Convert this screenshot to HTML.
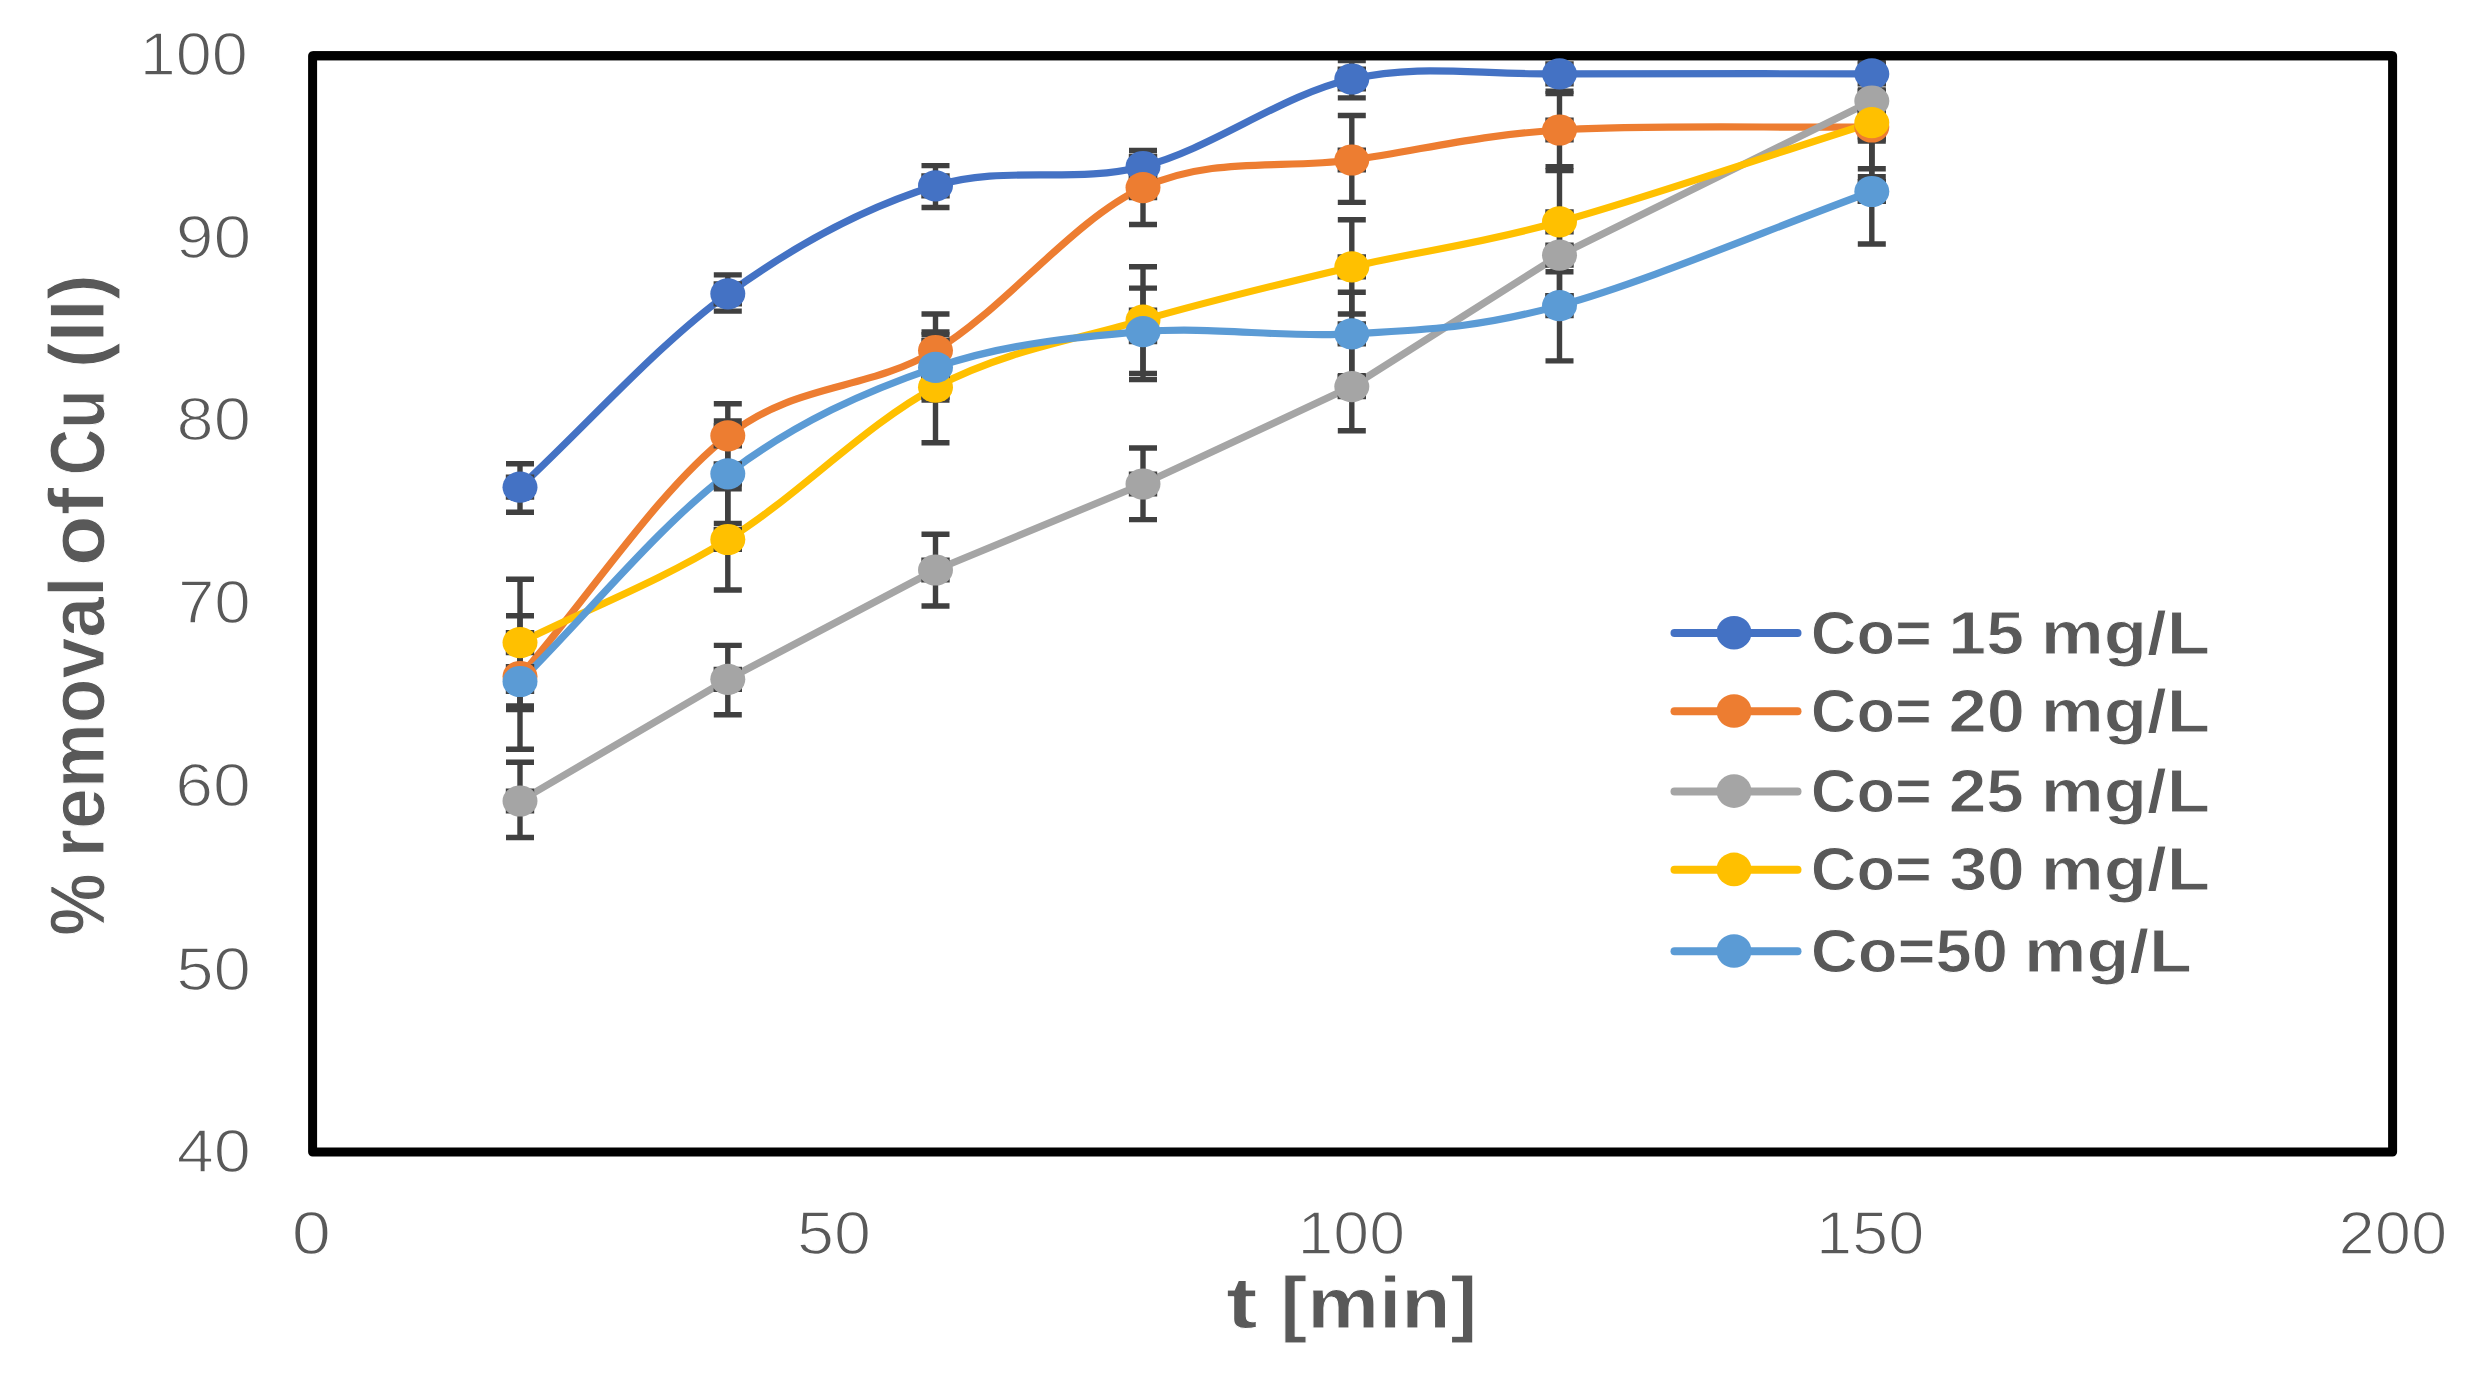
<!DOCTYPE html>
<html lang="en"><head><meta charset="utf-8"><title>% removal of Cu (II) vs t [min]</title>
<style>html,body{margin:0;padding:0;background:#fff;overflow:hidden;}svg{display:block;}text{font-family:"Liberation Sans",sans-serif;fill:#595959;}text{font-kerning:none;stroke:#fff;stroke-linejoin:round;}.r{stroke-width:1.4px;}.b{font-weight:bold;stroke-width:1px;}</style></head><body>
<svg width="2469" height="1379" viewBox="0 0 2469 1379">
<defs><filter id="soft" filterUnits="userSpaceOnUse" x="0" y="0" width="2469" height="1379" color-interpolation-filters="sRGB"><feGaussianBlur stdDeviation="0.75"/></filter></defs>
<rect x="0" y="0" width="2469" height="1379" fill="#fff"/>
<g filter="url(#soft)">
<rect x="0" y="0" width="2469" height="1379" fill="#fff"/>
<rect x="312.6" y="55.7" width="2080" height="1096.3" fill="none" stroke="#000" stroke-width="9" stroke-linejoin="round"/>
<g fill="none" stroke-width="7.2" stroke-linecap="round" stroke-linejoin="round">
<path d="M520 487.2 C589.3 422.7 658.5 344 727.8 293.8 C797 243.6 866.3 207 935.5 185.8 C1004.7 164.6 1073.6 184.3 1143 166.5 C1212.4 148.7 1282.4 94.4 1351.8 79 C1421.2 63.6 1472.8 74.8 1559.5 73.9 C1646.2 73.1 1767.7 73.9 1871.8 73.9" stroke="#4472C4"/>
<path d="M520 676.5 C589.3 596.3 658.5 490.1 727.8 435.8 C797 381.5 866.3 391.9 935.5 350.5 C1004.7 309.1 1073.6 219.3 1143 187.6 C1212.4 155.8 1282.4 169.6 1351.8 160 C1421.2 150.4 1472.8 135.5 1559.5 130 C1646.2 124.5 1767.7 128 1871.8 127" stroke="#ED7D31"/>
<path d="M520 801 L727.8 679.3 L935.5 570 L1143 484 L1351.8 386.6 L1559.5 255.2 L1871.8 101" stroke="#A5A5A5"/>
<path d="M520 642.6 C589.3 608.2 658.5 582.1 727.8 539.5 C797 496.9 866.3 423.8 935.5 387.2 C1004.7 350.6 1073.6 340.2 1143 320.1 C1212.4 300.1 1282.4 283.3 1351.8 266.9 C1421.2 250.5 1472.8 245.8 1559.5 221.8 C1646.2 197.8 1767.7 155.7 1871.8 122.7" stroke="#FFC000"/>
<path d="M520 681.5 C589.3 612.3 658.5 526.1 727.8 473.8 C797 421.4 866.3 391.1 935.5 367.4 C1004.7 343.7 1073.6 337.3 1143 331.7 C1212.4 326.1 1282.4 338.2 1351.8 333.9 C1421.2 329.5 1472.8 329.3 1559.5 305.6 C1646.2 281.9 1767.7 229.5 1871.8 191.5" stroke="#5B9BD5"/>
</g>
<g fill="none" stroke="#404040" stroke-width="5.4">
<path d="M520 463.8V512.2M506 463.8H534M506 512.2H534M727.8 274.9V311.1M713.8 274.9H741.8M713.8 311.1H741.8M935.5 165.6V207.5M921.5 165.6H949.5M921.5 207.5H949.5M1143 150.5V182M1129 150.5H1157M1129 182H1157M1351.8 60.5V97.9M1337.8 60.5H1365.8M1337.8 97.9H1365.8M1559.5 57V91.2M1545.5 57H1573.5M1545.5 91.2H1573.5M1871.8 57V90M1857.8 57H1885.8M1857.8 90H1885.8M508.5 487.2H531.5M508.5 474.6V499.8M531.5 474.6V499.8M716.3 293.8H739.3M716.3 281.2V306.4M739.3 281.2V306.4M924 185.8H947M924 173.2V198.4M947 173.2V198.4M1131.5 166.5H1154.5M1131.5 153.9V179.1M1154.5 153.9V179.1M1340.3 79H1363.3M1340.3 66.4V91.6M1363.3 66.4V91.6M1548 73.9H1571M1548 61.3V86.5M1571 61.3V86.5M1860.3 73.9H1883.3M1860.3 61.3V86.5M1883.3 61.3V86.5"/>
<path d="M520 642V709.5M506 642H534M506 709.5H534M727.8 403.8V467.8M713.8 403.8H741.8M713.8 467.8H741.8M935.5 314V388M921.5 314H949.5M921.5 388H949.5M1143 150.6V224.5M1129 150.6H1157M1129 224.5H1157M1351.8 115.5V202.4M1337.8 115.5H1365.8M1337.8 202.4H1365.8M1559.5 93.6V166.6M1545.5 93.6H1573.5M1545.5 166.6H1573.5M1871.8 77.3V176.7M1857.8 77.3H1885.8M1857.8 176.7H1885.8M508.5 676.5H531.5M508.5 663.9V689.1M531.5 663.9V689.1M716.3 435.8H739.3M716.3 423.2V448.4M739.3 423.2V448.4M924 350.5H947M924 337.9V363.1M947 337.9V363.1M1131.5 187.6H1154.5M1131.5 175V200.2M1154.5 175V200.2M1340.3 160H1363.3M1340.3 147.4V172.6M1363.3 147.4V172.6M1548 130H1571M1548 117.4V142.6M1571 117.4V142.6M1860.3 127H1883.3M1860.3 114.4V139.6M1883.3 114.4V139.6"/>
<path d="M520 762.3V837.5M506 762.3H534M506 837.5H534M727.8 645.4V714.7M713.8 645.4H741.8M713.8 714.7H741.8M935.5 534.3V606M921.5 534.3H949.5M921.5 606H949.5M1143 448V519.6M1129 448H1157M1129 519.6H1157M1351.8 342.4V430.8M1337.8 342.4H1365.8M1337.8 430.8H1365.8M1559.5 214.5V296M1545.5 214.5H1573.5M1545.5 296H1573.5M1871.8 61V141M1857.8 61H1885.8M1857.8 141H1885.8M508.5 801H531.5M508.5 788.4V813.6M531.5 788.4V813.6M716.3 679.3H739.3M716.3 666.7V691.9M739.3 666.7V691.9M924 570H947M924 557.4V582.6M947 557.4V582.6M1131.5 484H1154.5M1131.5 471.4V496.6M1154.5 471.4V496.6M1340.3 386.6H1363.3M1340.3 374V399.2M1363.3 374V399.2M1548 255.2H1571M1548 242.6V267.8M1571 242.6V267.8M1860.3 101H1883.3M1860.3 88.4V113.6M1883.3 88.4V113.6"/>
<path d="M520 579.2V706M506 579.2H534M506 706H534M727.8 488.7V590M713.8 488.7H741.8M713.8 590H741.8M935.5 332V442.7M921.5 332H949.5M921.5 442.7H949.5M1143 266.8V373.4M1129 266.8H1157M1129 373.4H1157M1351.8 219.7V314M1337.8 219.7H1365.8M1337.8 314H1365.8M1559.5 170.6V271.8M1545.5 170.6H1573.5M1545.5 271.8H1573.5M1871.8 76.6V168.8M1857.8 76.6H1885.8M1857.8 168.8H1885.8M508.5 642.6H531.5M508.5 630V655.2M531.5 630V655.2M716.3 539.5H739.3M716.3 526.9V552.1M739.3 526.9V552.1M924 387.2H947M924 374.6V399.8M947 374.6V399.8M1131.5 320.1H1154.5M1131.5 307.5V332.7M1154.5 307.5V332.7M1340.3 266.9H1363.3M1340.3 254.3V279.5M1363.3 254.3V279.5M1548 221.8H1571M1548 209.2V234.4M1571 209.2V234.4M1860.3 122.7H1883.3M1860.3 110.1V135.3M1883.3 110.1V135.3"/>
<path d="M520 615.8V749.2M506 615.8H534M506 749.2H534M727.8 421V523.5M713.8 421H741.8M713.8 523.5H741.8M935.5 334.7V400M921.5 334.7H949.5M921.5 400H949.5M1143 288.1V379.5M1129 288.1H1157M1129 379.5H1157M1351.8 292.2V375.6M1337.8 292.2H1365.8M1337.8 375.6H1365.8M1559.5 250.3V360.9M1545.5 250.3H1573.5M1545.5 360.9H1573.5M1871.8 139V244M1857.8 139H1885.8M1857.8 244H1885.8M508.5 681.5H531.5M508.5 668.9V694.1M531.5 668.9V694.1M716.3 473.8H739.3M716.3 461.2V486.4M739.3 461.2V486.4M924 367.4H947M924 354.8V380M947 354.8V380M1131.5 331.7H1154.5M1131.5 319.1V344.3M1154.5 319.1V344.3M1340.3 333.9H1363.3M1340.3 321.3V346.5M1363.3 321.3V346.5M1548 305.6H1571M1548 293V318.2M1571 293V318.2M1860.3 191.5H1883.3M1860.3 178.9V204.1M1883.3 178.9V204.1"/>
</g>
<path d="M312.6 55.7H2392.6" stroke="#000" stroke-width="9" fill="none"/>
<g fill="#4472C4"><ellipse cx="520" cy="487.2" rx="17.5" ry="15.6"/><ellipse cx="727.8" cy="293.8" rx="17.5" ry="15.6"/><ellipse cx="935.5" cy="185.8" rx="17.5" ry="15.6"/><ellipse cx="1143" cy="166.5" rx="17.5" ry="15.6"/><ellipse cx="1351.8" cy="79" rx="17.5" ry="15.6"/><ellipse cx="1559.5" cy="73.9" rx="17.5" ry="15.6"/><ellipse cx="1871.8" cy="73.9" rx="17.5" ry="15.6"/></g>
<g fill="#ED7D31"><ellipse cx="520" cy="676.5" rx="17.5" ry="15.6"/><ellipse cx="727.8" cy="435.8" rx="17.5" ry="15.6"/><ellipse cx="935.5" cy="350.5" rx="17.5" ry="15.6"/><ellipse cx="1143" cy="187.6" rx="17.5" ry="15.6"/><ellipse cx="1351.8" cy="160" rx="17.5" ry="15.6"/><ellipse cx="1559.5" cy="130" rx="17.5" ry="15.6"/><ellipse cx="1871.8" cy="127" rx="17.5" ry="15.6"/></g>
<g fill="#A5A5A5"><ellipse cx="520" cy="801" rx="17.5" ry="15.6"/><ellipse cx="727.8" cy="679.3" rx="17.5" ry="15.6"/><ellipse cx="935.5" cy="570" rx="17.5" ry="15.6"/><ellipse cx="1143" cy="484" rx="17.5" ry="15.6"/><ellipse cx="1351.8" cy="386.6" rx="17.5" ry="15.6"/><ellipse cx="1559.5" cy="255.2" rx="17.5" ry="15.6"/><ellipse cx="1871.8" cy="101" rx="17.5" ry="15.6"/></g>
<g fill="#FFC000"><ellipse cx="520" cy="642.6" rx="17.5" ry="15.6"/><ellipse cx="727.8" cy="539.5" rx="17.5" ry="15.6"/><ellipse cx="935.5" cy="387.2" rx="17.5" ry="15.6"/><ellipse cx="1143" cy="320.1" rx="17.5" ry="15.6"/><ellipse cx="1351.8" cy="266.9" rx="17.5" ry="15.6"/><ellipse cx="1559.5" cy="221.8" rx="17.5" ry="15.6"/><ellipse cx="1871.8" cy="122.7" rx="17.5" ry="15.6"/></g>
<g fill="#5B9BD5"><ellipse cx="520" cy="681.5" rx="17.5" ry="15.6"/><ellipse cx="727.8" cy="473.8" rx="17.5" ry="15.6"/><ellipse cx="935.5" cy="367.4" rx="17.5" ry="15.6"/><ellipse cx="1143" cy="331.7" rx="17.5" ry="15.6"/><ellipse cx="1351.8" cy="333.9" rx="17.5" ry="15.6"/><ellipse cx="1559.5" cy="305.6" rx="17.5" ry="15.6"/><ellipse cx="1871.8" cy="191.5" rx="17.5" ry="15.6"/></g>
<text class="r" y="75.1" font-size="60.5"><tspan x="139.8" textLength="108.1" lengthAdjust="spacingAndGlyphs">100</tspan></text>
<text class="r" y="258.3" font-size="60.5"><tspan x="175.7" textLength="75.6" lengthAdjust="spacingAndGlyphs">90</tspan></text>
<text class="r" y="439.8" font-size="60.5"><tspan x="176.6" textLength="74.3" lengthAdjust="spacingAndGlyphs">80</tspan></text>
<text class="r" y="623.3" font-size="60.5"><tspan x="177.9" textLength="72.9" lengthAdjust="spacingAndGlyphs">70</tspan></text>
<text class="r" y="806.3" font-size="60.5"><tspan x="175.2" textLength="75.7" lengthAdjust="spacingAndGlyphs">60</tspan></text>
<text class="r" y="989.8" font-size="60.5"><tspan x="176.2" textLength="74.7" lengthAdjust="spacingAndGlyphs">50</tspan></text>
<text class="r" y="1171.6" font-size="60.5"><tspan x="176.8" textLength="74.1" lengthAdjust="spacingAndGlyphs">40</tspan></text>
<text class="r" y="1254.2" font-size="60.5"><tspan x="291.8" textLength="39.2" lengthAdjust="spacingAndGlyphs">0</tspan></text>
<text class="r" y="1254.2" font-size="60.5"><tspan x="796.9" textLength="74" lengthAdjust="spacingAndGlyphs">50</tspan></text>
<text class="r" y="1254.2" font-size="60.5"><tspan x="1297.5" textLength="107.6" lengthAdjust="spacingAndGlyphs">100</tspan></text>
<text class="r" y="1254.2" font-size="60.5"><tspan x="1815.9" textLength="108.4" lengthAdjust="spacingAndGlyphs">150</tspan></text>
<text class="r" y="1254.2" font-size="60.5"><tspan x="2338.5" textLength="108.7" lengthAdjust="spacingAndGlyphs">200</tspan></text>
<text class="b" y="1328.2" font-size="73"><tspan x="1226.1" textLength="31.6" lengthAdjust="spacingAndGlyphs">t</tspan> <tspan x="1280.3" textLength="197.2" lengthAdjust="spacingAndGlyphs">[min]</tspan></text>
<text class="b" transform="translate(103.9 0) rotate(-90) scale(1 1.10)" font-size="70.5"><tspan x="-935.7" textLength="62.4" lengthAdjust="spacingAndGlyphs">%</tspan> <tspan x="-857.6" textLength="280.9" lengthAdjust="spacingAndGlyphs">removal</tspan> <tspan x="-565.9" textLength="78.1" lengthAdjust="spacingAndGlyphs">of</tspan> <tspan x="-475.2" textLength="85.6" lengthAdjust="spacingAndGlyphs">Cu</tspan> <tspan x="-367.9" textLength="93.7" lengthAdjust="spacingAndGlyphs">(II)</tspan></text>
<path d="M1674.5 633H1797.5" stroke="#4472C4" stroke-width="8" stroke-linecap="round" fill="none"/>
<ellipse cx="1734" cy="632.7" rx="17.5" ry="16.8" fill="#4472C4"/>
<text class="b" y="653.6" font-size="62"><tspan x="1810.8" textLength="121" lengthAdjust="spacingAndGlyphs">Co=</tspan> <tspan x="1948.3" textLength="75.7" lengthAdjust="spacingAndGlyphs">15</tspan> <tspan x="2040.8" textLength="169.3" lengthAdjust="spacingAndGlyphs">mg/L</tspan></text>
<path d="M1674.5 711.3H1797.5" stroke="#ED7D31" stroke-width="8" stroke-linecap="round" fill="none"/>
<ellipse cx="1734" cy="711" rx="17.5" ry="16.8" fill="#ED7D31"/>
<text class="b" y="731.9" font-size="62"><tspan x="1810.8" textLength="121" lengthAdjust="spacingAndGlyphs">Co=</tspan> <tspan x="1948.6" textLength="76.3" lengthAdjust="spacingAndGlyphs">20</tspan> <tspan x="2040.8" textLength="169.3" lengthAdjust="spacingAndGlyphs">mg/L</tspan></text>
<path d="M1674.5 791.4H1797.5" stroke="#A5A5A5" stroke-width="8" stroke-linecap="round" fill="none"/>
<ellipse cx="1734" cy="791.1" rx="17.5" ry="16.8" fill="#A5A5A5"/>
<text class="b" y="812" font-size="62"><tspan x="1810.8" textLength="121" lengthAdjust="spacingAndGlyphs">Co=</tspan> <tspan x="1948.7" textLength="75.3" lengthAdjust="spacingAndGlyphs">25</tspan> <tspan x="2040.8" textLength="169.3" lengthAdjust="spacingAndGlyphs">mg/L</tspan></text>
<path d="M1674.5 869.7H1797.5" stroke="#FFC000" stroke-width="8" stroke-linecap="round" fill="none"/>
<ellipse cx="1734" cy="869.4" rx="17.5" ry="16.8" fill="#FFC000"/>
<text class="b" y="890.3" font-size="62"><tspan x="1810.8" textLength="121" lengthAdjust="spacingAndGlyphs">Co=</tspan> <tspan x="1949.4" textLength="75.4" lengthAdjust="spacingAndGlyphs">30</tspan> <tspan x="2040.8" textLength="169.3" lengthAdjust="spacingAndGlyphs">mg/L</tspan></text>
<path d="M1674.5 951.3H1797.5" stroke="#5B9BD5" stroke-width="8" stroke-linecap="round" fill="none"/>
<ellipse cx="1734" cy="951" rx="17.5" ry="16.8" fill="#5B9BD5"/>
<text class="b" y="971.9" font-size="62"><tspan x="1810.7" textLength="197.3" lengthAdjust="spacingAndGlyphs">Co=50</tspan> <tspan x="2024.1" textLength="167.7" lengthAdjust="spacingAndGlyphs">mg/L</tspan></text>
</g>
</svg></body></html>
